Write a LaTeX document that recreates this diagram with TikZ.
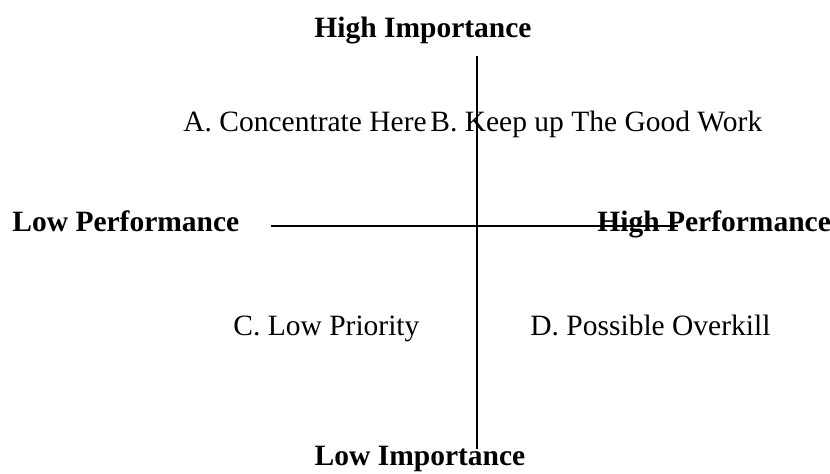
\documentclass[tikz,border=0pt]{standalone}
\usepackage{fontspec}
\setmainfont{Liberation Serif}
\usepackage{tikz}
\usetikzlibrary{positioning}

\begin{document}
\begin{tikzpicture}[x=0.5pt,y=-0.5pt,
  lab/.style={inner sep=0pt,font=\fontsize{14.75}{17}\selectfont},
  head/.style={lab,font=\fontsize{14.75}{17}\selectfont\bfseries},
  axis/.style={line width=1pt}]
  \useasboundingbox (0,0) rectangle (830,474);
  % axis labels
  \node[head,anchor=base] (hi) at (423,38) {High Importance};
  \node[head,anchor=base] (lo) at (420,466) {Low Importance};
  \node[head,anchor=base west] (lp) at (12,232) {Low Performance};
  \node[head,anchor=base west] (hp) at (597,232) {High Performance};
  % quadrants
  \node[lab,anchor=base west] (qa) at (183,132) {A. Concentrate Here};
  \node[lab,anchor=base west] (qb) at (430,132) {B. Keep up The Good Work};
  \node[lab,anchor=base west] (qc) at (233,336) {C. Low Priority};
  \node[lab,anchor=base west] (qd) at (530,336) {D. Possible Overkill};
  % axes
  \coordinate (vtop) at (477,56);
  \coordinate (vbot) at (477,449);
  \coordinate (hleft) at (271,226);
  \coordinate (hright) at (678,226);
  \draw[axis] (vtop) -- (vbot);
  \draw[axis] (hleft) -- (hright);
\end{tikzpicture}
\end{document}
